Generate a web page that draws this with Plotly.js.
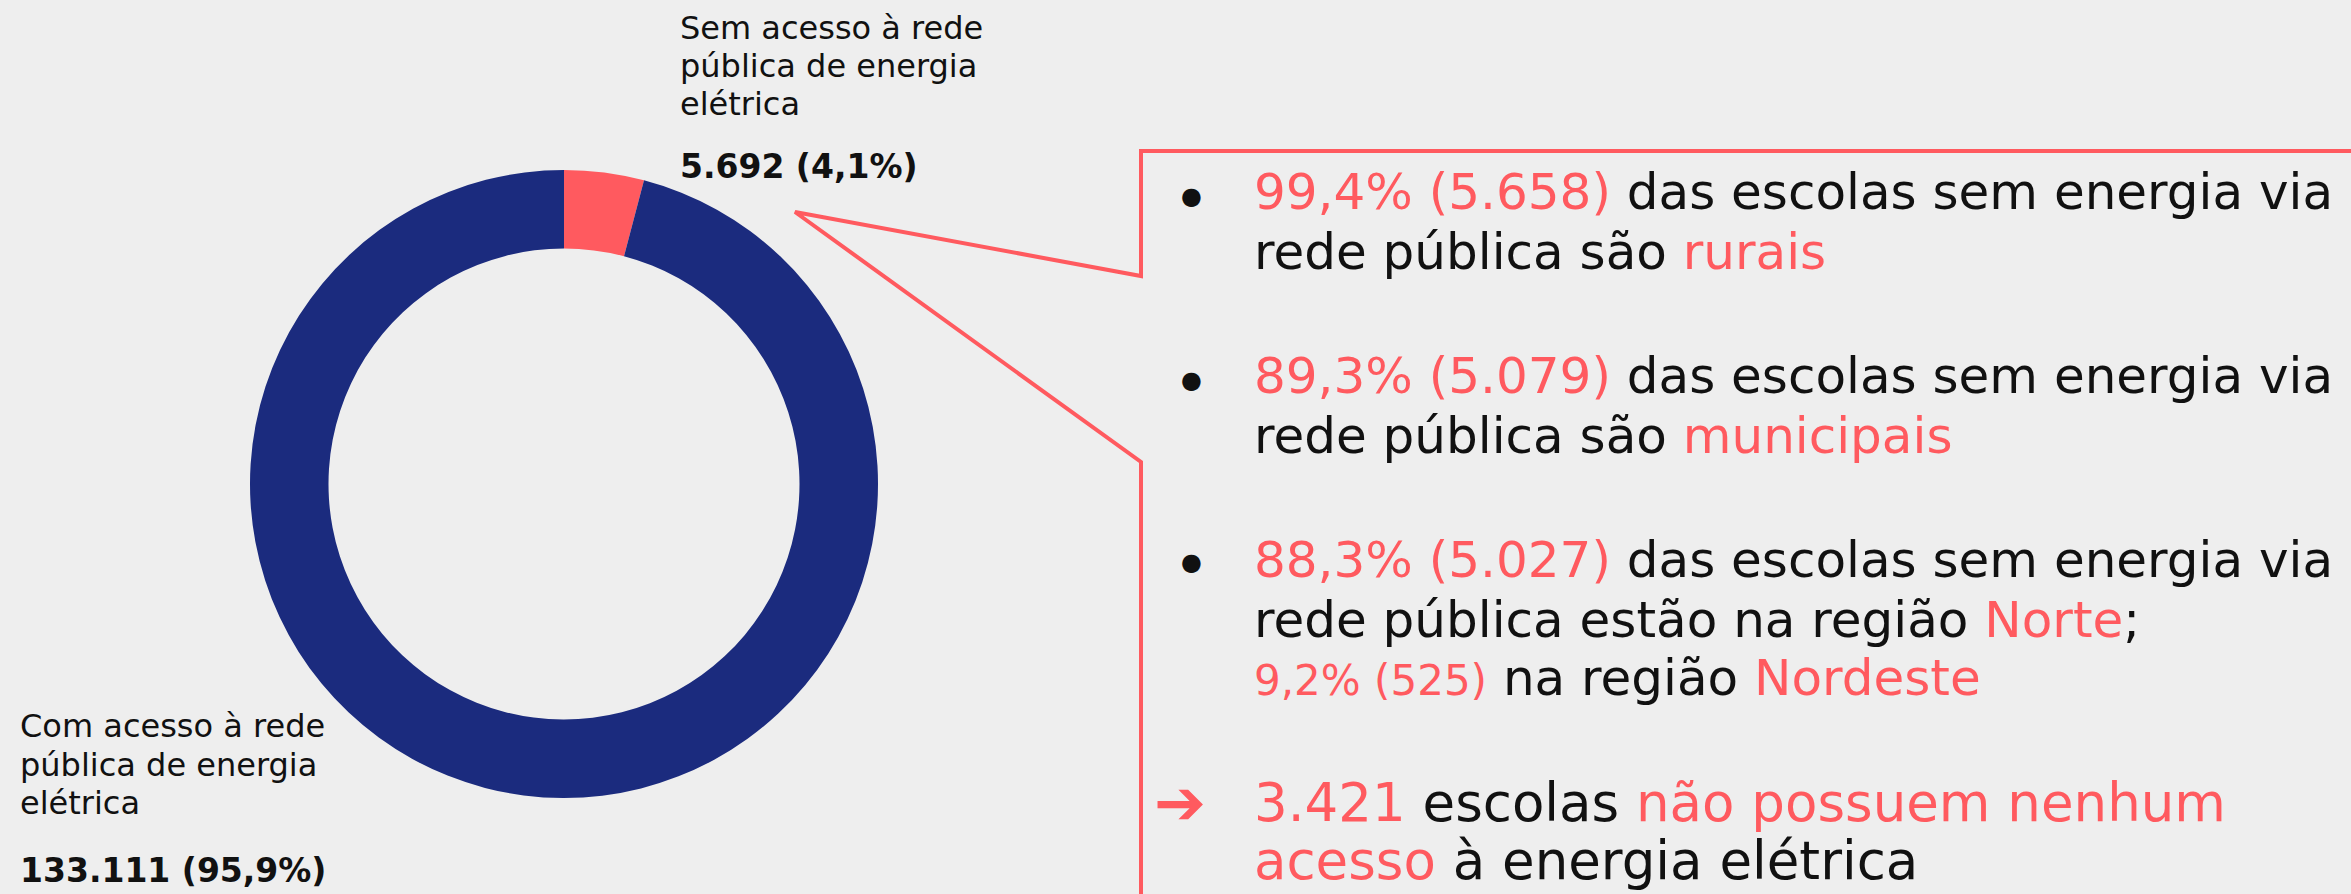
<!DOCTYPE html>
<html>
<head>
<meta charset="utf-8">
<script src="https://cdn.plot.ly/plotly-3.0.1.min.js"></script>
<style>html,body{margin:0;padding:0;background:#eeeeee;}</style>
</head>
<body>
<div id="chart" style="width:2351px;height:894px;"></div>
<script>
// Data
const categories = ["Sem acesso à rede pública de energia elétrica", "Com acesso à rede pública de energia elétrica"];
const schoolCounts = [5692, 133111];
const shareLabels = ["5.692 (4,1%)", "133.111 (95,9%)"];
const sliceColors = ["#FF5A5F", "#1B2B7E"];

const RED = "#FF5A5F";
const INK = "#111111";
const FONT = "DejaVu Sans";

function r(t){ return '<span style="color:' + RED + '">' + t + '</span>'; }

const W = 2351, H = 894;
const px = x => x / W;
const py = y => 1 - y / H;

// Donut geometry (pixels)
const cx = 564, cy = 484, R = 314;

const trace = {
  type: "pie",
  labels: categories,
  values: schoolCounts,
  marker: {colors: sliceColors, line: {width: 0}},
  hole: 0.75,
  sort: false,
  direction: "clockwise",
  rotation: 0,
  textinfo: "none",
  hoverinfo: "label+value+percent",
  showlegend: false,
  domain: {x: [px(cx - R), px(cx + R)], y: [py(cy + R), py(cy - R)]}
};

function ann(x, y, text, size, opts){
  return Object.assign({
    xref: "paper", yref: "paper", x: px(x), y: py(y),
    xanchor: "left", yanchor: "middle", showarrow: false, align: "left",
    text: text, font: {family: FONT, size: size, color: INK}
  }, opts || {});
}

const lblSize = 32, numSize = 33, bSize = 50, lastSize = 53;
const annotations = [
  ann(678, 28, "Sem acesso à rede", lblSize),
  ann(678, 66, "pública de energia", lblSize),
  ann(678, 104, "elétrica", lblSize),
  ann(678, 166, "<b>" + shareLabels[0] + "</b>", numSize),
  ann(18, 726, "Com acesso à rede", lblSize),
  ann(18, 765, "pública de energia", lblSize),
  ann(18, 803, "elétrica", lblSize),
  ann(18, 866, "<b>" + shareLabels[1] + "</b>", numSize, {yanchor: "bottom", y: py(892)}),

  ann(1192, 196, "●", 24, {xanchor: "center"}),
  ann(1252, 192, r("99,4% (5.658)") + " das escolas sem energia via", bSize),
  ann(1252, 252, "rede pública são " + r("rurais"), bSize),

  ann(1192, 380, "●", 24, {xanchor: "center"}),
  ann(1252, 376, r("89,3% (5.079)") + " das escolas sem energia via", bSize),
  ann(1252, 436, "rede pública são " + r("municipais"), bSize),

  ann(1192, 562, "●", 24, {xanchor: "center"}),
  ann(1252, 560, r("88,3% (5.027)") + " das escolas sem energia via", bSize),
  ann(1252, 620, "rede pública estão na região " + r("Norte") + ";", bSize),
  ann(1252, 678, '<span style="font-size:42px">' + r("9,2% (525)") + '</span> na região ' + r("Nordeste"), bSize),

  ann(1180, 802, r("➔"), 62, {xanchor: "center"}),
  ann(1252, 802, r("3.421") + " escolas " + r("não possuem nenhum"), lastSize),
  ann(1252, 862, r("acesso") + " à energia elétrica", lastSize, {yanchor: "bottom", y: py(893)})
];

const calloutPath = "M " + px(2360) + " " + py(151) +
  " L " + px(1141) + " " + py(151) +
  " L " + px(1141) + " " + py(276) +
  " L " + px(795) + " " + py(212) +
  " L " + px(1141) + " " + py(462) +
  " L " + px(1141) + " " + py(900);

const layout = {
  width: W, height: H,
  margin: {l: 0, r: 0, t: 0, b: 0},
  paper_bgcolor: "#eeeeee",
  plot_bgcolor: "#eeeeee",
  showlegend: false,
  annotations: annotations,
  shapes: [{
    type: "path", xref: "paper", yref: "paper", path: calloutPath,
    line: {color: RED, width: 4}
  }]
};

Plotly.newPlot("chart", [trace], layout, {displayModeBar: false, staticPlot: true});
</script>
</body>
</html>
